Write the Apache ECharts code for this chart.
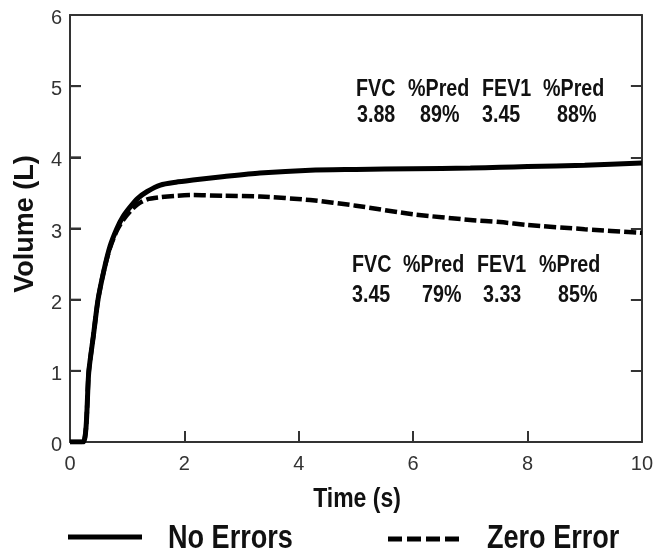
<!DOCTYPE html>
<html><head><meta charset="utf-8">
<script src="https://cdn.jsdelivr.net/npm/echarts@6/dist/echarts.min.js"></script>
<style>html,body{margin:0;padding:0;background:#fff}#c{width:656px;height:554px}</style>
</head><body><div id="c"></div>
<script>
var times      = [0, 0.23, 0.33, 0.41, 0.49, 0.59, 0.7, 0.82, 0.93, 1.05, 1.18, 1.35, 1.58, 1.85, 2.15, 2.7, 3.32, 4.2, 5, 6, 7, 7.52, 8, 9, 10];
var noErrors   = [0, 0, 1.0, 1.5, 2.0, 2.4, 2.75, 3.0, 3.17, 3.3, 3.42, 3.52, 3.61, 3.65, 3.68, 3.73, 3.78, 3.82, 3.83, 3.84, 3.85, 3.86, 3.87, 3.89, 3.92];
var zeroError  = [0, 0, 1.0, 1.5, 2.0, 2.4, 2.73, 2.97, 3.12, 3.24, 3.34, 3.41, 3.44, 3.46, 3.47, 3.46, 3.45, 3.4, 3.32, 3.2, 3.12, 3.09, 3.05, 2.99, 2.94];
var xTicks = [0, 2, 4, 6, 8, 10];
var yTicks = [0, 1, 2, 3, 4, 5, 6];
var statHeaders = ["FVC", "%Pred", "FEV1", "%Pred"];
var noErrorStats = ["3.88", "89%", "3.45", "88%"];
var zeroErrorStats = ["3.45", "79%", "3.33", "85%"];
var seriesNames = ["No Errors", "Zero Error"];

var chart = echarts.init(document.getElementById('c'));
function pairs(v){ return times.map(function(t,i){ return [t, v[i]]; }); }
var SANS = "'Liberation Sans', Arial, sans-serif";
var tickFont = {color:'#333', fontFamily:SANS, fontSize:20};

var graphics = [];
function txt(s, x, y, size, sx){
  graphics.push({type:'text', x:x, y:y, scaleX:sx, scaleY:1,
    style:{text:s, font:'bold '+size+'px '+SANS, fill:'#111', align:'left', verticalAlign:'middle'}});
}
var topHX = [356, 408, 482, 543], topVX = [357, 420, 482, 557];
var botHX = [352, 403, 477, 539], botVX = [352, 422, 483, 558];
statHeaders.forEach(function(h,i){
  txt(h, topHX[i], 89, 24, 0.82);
  txt(noErrorStats[i], topVX[i], 115, 24, 0.82);
  txt(h, botHX[i], 265, 24, 0.82);
  txt(zeroErrorStats[i], botVX[i], 295, 24, 0.82);
});
graphics.push({type:'text', x:26, y:224, rotation:Math.PI/2,
  style:{text:'Volume (L)', font:'bold 27px '+SANS, fill:'#111', align:'center', verticalAlign:'middle'}});
graphics.push({type:'text', x:357, y:499, scaleX:0.82,
  style:{text:'Time (s)', font:'bold 28px '+SANS, fill:'#111', align:'center', verticalAlign:'middle'}});
graphics.push({type:'line', shape:{x1:68,y1:537,x2:142,y2:537}, style:{stroke:'#000', lineWidth:5}});
txt(seriesNames[0], 168, 539, 33, 0.82);
graphics.push({type:'line', shape:{x1:388,y1:539,x2:459,y2:539}, style:{stroke:'#000', lineWidth:5, lineDash:[14,5]}});
txt(seriesNames[1], 487, 539, 33, 0.82);

var axisLine = {show:true, onZero:false, lineStyle:{color:'#333', width:2}};
var inTick = {show:true, inside:true, length:11, lineStyle:{color:'#333', width:2}};
var GRID = {left:70, right:14, top:15, bottom:112};

chart.setOption({
  animation:false,
  backgroundColor:'#fff',
  grid:GRID,
  xAxis:[
    {type:'value', min:0, max:10, interval:2, position:'bottom', axisLine:axisLine, axisTick:inTick,
     axisLabel:Object.assign({margin:12, formatter:function(v){return xTicks.indexOf(v)>=0?String(v):'';}}, tickFont),
     splitLine:{show:false}},
    {type:'value', min:0, max:10, interval:2, position:'top', axisLine:axisLine,
     axisTick:{show:false}, axisLabel:{show:false}, splitLine:{show:false}}
  ],
  yAxis:[
    {type:'value', min:0, max:6, interval:1, position:'left', axisLine:axisLine, axisTick:inTick,
     axisLabel:Object.assign({margin:8, verticalAlign:'top', lineHeight:7, formatter:function(v){return yTicks.indexOf(v)>=0?String(v):'';}}, tickFont),
     splitLine:{show:false}},
    {type:'value', min:0, max:6, interval:1, position:'right', axisLine:axisLine, axisTick:inTick,
     axisLabel:{show:false}, splitLine:{show:false}}
  ],
  series:[
    {name:seriesNames[0], type:'line', data:pairs(noErrors), showSymbol:false, smooth:0.25, z:3,
     lineStyle:{color:'#000', width:5}},
    {name:seriesNames[1], type:'line', data:pairs(zeroError), showSymbol:false, smooth:0.25, z:2,
     lineStyle:{color:'#000', width:4.5, type:[12,4]}}
  ],
  graphic:graphics
});

// inward ticks on the left axis, placed through the axis scale
var tickGraphics = graphics.slice();
yTicks.slice(1, yTicks.length - 1).forEach(function(v){
  var p = chart.convertToPixel({xAxisIndex:0, yAxisIndex:0}, [0, v]);
  if (p && isFinite(p[1])) {
    tickGraphics.push({type:'line', shape:{x1:p[0], y1:p[1], x2:p[0] + 11, y2:p[1]},
      style:{stroke:'#333', lineWidth:2}, z:10});
  }
});
chart.setOption({graphic:tickGraphics}, {replaceMerge:['graphic']});
</script></body></html>
